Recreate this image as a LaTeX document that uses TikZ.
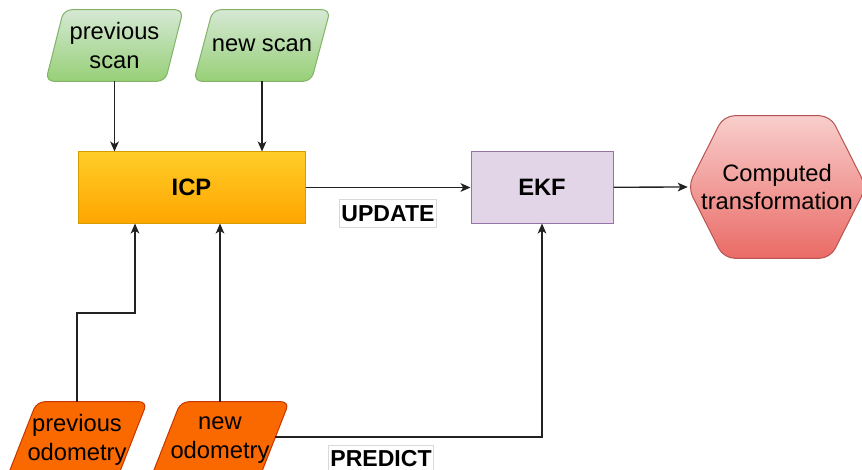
\documentclass[tikz,border=0pt]{standalone}
\usepackage{fontspec}
\setmainfont{Liberation Sans}
\usetikzlibrary{calc,arrows.meta,backgrounds}
\definecolor{gtop}{HTML}{D5E8D4}
\definecolor{gbot}{HTML}{97D077}
\definecolor{gline}{HTML}{82B366}
\definecolor{ytop}{HTML}{FFCD28}
\definecolor{ybot}{HTML}{FFA500}
\definecolor{yline}{HTML}{D79B00}
\definecolor{pfill}{HTML}{E1D5E7}
\definecolor{pline}{HTML}{9673A6}
\definecolor{rtop}{HTML}{F8CECC}
\definecolor{rbot}{HTML}{EA6B66}
\definecolor{rline}{HTML}{B85450}
\definecolor{ofill}{HTML}{FA6800}
\definecolor{oline}{HTML}{C73500}
\definecolor{edgec}{HTML}{222222}
\newcommand\parashape[3]{%
  \path[#2] (#1.south west) -- ($(#1.north west)+(#3pt,0)$) -- (#1.north east)
    -- ($(#1.south east)-(#3pt,0)$) -- cycle;}
\begin{document}
\begin{tikzpicture}[x=0.75pt,y=-0.75pt,
  font=\fontsize{17.8pt}{21.5pt}\selectfont,
  txt/.style={shape=rectangle,inner sep=0pt,align=center},
  scanshape/.style={top color=gtop,bottom color=gbot,draw=gline,line width=0.75pt,rounded corners=6pt},
  odomshape/.style={fill=ofill,draw=oline,line width=0.75pt,rounded corners=6pt},
  hexshape/.style={top color=rtop,bottom color=rbot,draw=rline,line width=0.75pt,rounded corners=8pt},
  icpbox/.style={txt,top color=ytop,bottom color=ybot,draw=yline,line width=0.75pt,font=\fontsize{17.8pt}{21.5pt}\selectfont\bfseries},
  ekfbox/.style={txt,fill=pfill,draw=pline,line width=0.75pt,font=\fontsize{17.8pt}{21.5pt}\selectfont\bfseries},
  lbl/.style={txt,fill=white,draw=black!15,line width=0.6pt,inner xsep=1.5pt,minimum height=21pt,font=\fontsize{17.3pt}{21pt}\selectfont\bfseries},
  arr/.style={draw=edgec,line width=1pt,-{Stealth[length=7.5pt,width=6.5pt,inset=2pt]}}]
\useasboundingbox (0,0) rectangle (862,470);
% nodes
\node[txt,minimum width=102.75pt,minimum height=53.25pt] (ps) at (114.5,45.5) {previous\\scan};
\node[txt,minimum width=102pt,minimum height=53.25pt] (ns) at (262,45.5) {new scan};
\node[icpbox,minimum width=170.25pt,minimum height=53.25pt] (icp) at (191.5,187.5) {ICP};
\node[ekfbox,minimum width=106.5pt,minimum height=53.25pt] (ekf) at (542,187.5) {EKF};
\node[txt,minimum width=133.5pt,minimum height=106.5pt] (ct) at (777,187) {Computed\\transformation};
\node[txt,minimum width=105pt,minimum height=57pt] (po) at (77,440) {previous\\odometry};
\node[txt,minimum width=103.5pt,minimum height=57pt] (no) at (220,440) {new\\odometry};
% shapes behind
\begin{scope}[on background layer]
  \parashape{ps}{scanshape}{13.5}
  \parashape{ns}{scanshape}{14.25}
  \parashape{po}{odomshape}{22.5}
  \parashape{no}{odomshape}{22.5}
  \path[hexshape] (ct.west) -- ($(ct.north west)+(27pt,0)$) -- ($(ct.north east)-(27pt,0)$)
    -- (ct.east) -- ($(ct.south east)-(27pt,0)$) -- ($(ct.south west)+(27pt,0)$) -- cycle;
\end{scope}
% connectors
\coordinate (k1) at (135,313);
\draw[arr] (ps.south) -- (ps.south |- icp.north);
\draw[arr] (ns.south) -- (ns.south |- icp.north);
\draw[arr] (po.north) |- (k1) -- (k1 |- icp.south);
\draw[arr] (no.north) -- (no.north |- icp.south);
\draw[arr] (icp) -- (ekf) node[lbl,midway,yshift=-19.5pt] (upd) {UPDATE};
\draw[arr] (ekf) -- (ct.west);
\draw[arr] ($(no.east)+(-14,-3)$) -| (ekf.south) node[lbl] (pred) at (381,459) {PREDICT};
\end{tikzpicture}
\end{document}
